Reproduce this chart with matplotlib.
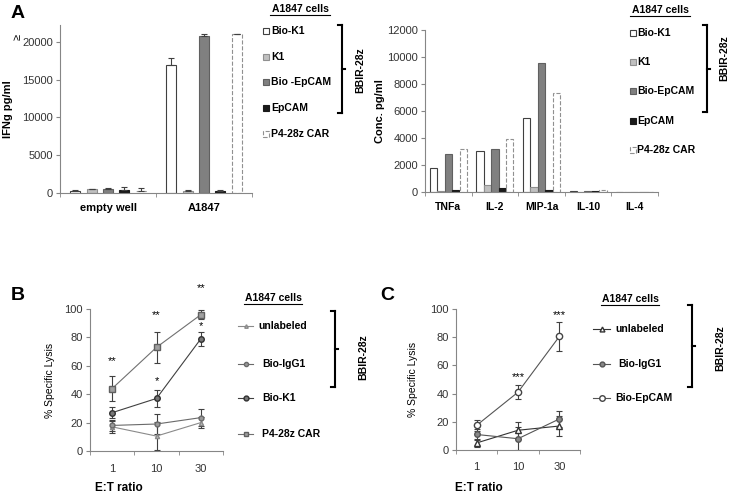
import numpy as np
import matplotlib
matplotlib.use("Agg")
import matplotlib.pyplot as plt
from matplotlib.patches import Rectangle
from matplotlib.lines import Line2D

plt.rcParams['font.family'] = ['Liberation Sans', 'DejaVu Sans']

# ---- data ----
ifn_groups = ['empty well', 'A1847']
ifn_series = ['Bio-K1', 'K1', 'Bio -EpCAM', 'EpCAM', 'P4-28z CAR']
ifn_vals = [[200, 17000], [500, 300], [500, 20800], [400, 200], [300, 21000]]
ifn_err = [[200, 900], [60, 100], [200, 200], [350, 250], [350, 0]]

cyt_cats = ['TNFa', 'IL-2', 'MIP-1a', 'IL-10', 'IL-4']
cyt_series = ['Bio-K1', 'K1', 'Bio-EpCAM', 'EpCAM', 'P4-28z CAR']
cyt_vals = [[1750, 3050, 5500, 50, 30],
            [80, 500, 400, 30, 20],
            [2800, 3200, 9550, 50, 30],
            [120, 300, 150, 80, 20],
            [3200, 3900, 7350, 180, 30]]

et_ratio = ['1', '10', '30']
b_series = ['unlabeled', 'Bio-IgG1', 'Bio-K1', 'P4-28z CAR']
b_vals = [[17, 10.5, 20], [18, 19, 23.5], [27, 37, 79], [44, 73, 96]]
b_err = [[4, 10, 4], [4, 7, 6], [4, 6, 5], [9, 11, 3]]
b_stars = [(0, 63, '**'), (1, 96, '**'), (2, 115, '**'), (1, 49, '*'), (2, 88, '*')]

c_series = ['unlabeled', 'Bio-IgG1', 'Bio-EpCAM']
c_vals = [[5, 14, 17], [11, 8, 22], [17.5, 41, 80.5]]
c_err = [[3, 6, 7], [4, 8, 6], [4, 5, 10]]
c_stars = [(1, 52, '***'), (2, 96, '***')]

# ---- styles ----
bar_face = ['white', '#c0c0c0', '#808080', '#1a1a1a', 'white']
bar_edge = ['#404040', '#909090', '#606060', '#1a1a1a', '#909090']
bar_ls = ['-', '-', '-', '-', '--']
axcol = '#868686'

W, H = 729, 497
fig = plt.figure(figsize=(W / 100, H / 100), dpi=100)


def px_ax(x0, y0, x1, y1):
    return fig.add_axes([x0 / W, 1 - y1 / H, (x1 - x0) / W, (y1 - y0) / H])


def style_ax(ax, ncat):
    for s in ['top', 'right']:
        ax.spines[s].set_visible(False)
    for s in ['left', 'bottom']:
        ax.spines[s].set_color(axcol)
    ax.set_xlim(-0.5, ncat - 0.5)
    ax.set_xticks(np.arange(ncat))
    ax.set_xticks(np.arange(ncat + 1) - 0.5, minor=True)
    ax.tick_params(axis='x', which='major', length=0, pad=7)
    ax.tick_params(axis='x', which='minor', length=3, color=axcol)
    ax.tick_params(axis='y', length=3, pad=2, color=axcol, labelsize=8, labelcolor='#333333')


def ftext(x, y, s, **kw):
    fig.text(x / W, 1 - y / H, s, **kw)


def bracket(x, y0, y1):
    lw = 1.5
    fig.add_artist(Line2D([x / W, x / W], [1 - y0 / H, 1 - y1 / H], color='black', lw=lw))
    for y in (y0, y1):
        fig.add_artist(Line2D([(x - 4) / W, x / W], [1 - y / H, 1 - y / H], color='black', lw=lw))
    ym = (y0 + y1) / 2
    fig.add_artist(Line2D([x / W, (x + 3) / W], [1 - ym / H, 1 - ym / H], color='black', lw=lw))


def sq(x, y, i):
    s = 6
    fig.add_artist(Rectangle((x / W, 1 - (y + s / 2) / H), s / W, s / H,
                             facecolor=bar_face[i], edgecolor=bar_edge[i], lw=0.8,
                             linestyle=bar_ls[i], transform=fig.transFigure))


# ---- A left ----
ax1 = px_ax(60, 25, 252, 193)
style_ax(ax1, 2)
x = np.arange(2)
for i in range(5):
    pos = x + (i - 2) * 0.17
    ax1.bar(pos, ifn_vals[i], width=0.105, color=bar_face[i], edgecolor=bar_edge[i],
            linestyle=bar_ls[i], linewidth=0.8)
    e = np.array(ifn_err[i])
    ax1.errorbar(pos, ifn_vals[i], yerr=[np.zeros(2), e], fmt='none', ecolor='#404040',
                 elinewidth=0.8, capsize=2.5, capthick=0.8)
ax1.set_ylim(0, 22250)
ax1.set_yticks(np.arange(0, 20001, 5000))
ax1.set_xticklabels(ifn_groups, fontsize=8, fontweight='bold')
ax1.set_ylabel('IFNg pg/ml', fontsize=8, fontweight='bold')
ax1.yaxis.set_label_coords(-0.245, 0.5)
ftext(18, 37, '≥', fontsize=8, rotation=90, ha='center', va='center')
ftext(18, 14, 'A', fontsize=14, fontweight='bold', ha='center', va='center')

ftext(300, 9, 'A1847 cells', fontsize=7.5, fontweight='bold', ha='center', va='center')
fig.add_artist(Line2D([270 / W, 330 / W], [1 - 15 / H, 1 - 15 / H], color='black', lw=0.8))
for i, (lab, y) in enumerate(zip(ifn_series, [31, 57, 82, 108, 134])):
    sq(263, y, i)
    ftext(271, y, lab, fontsize=7.5, fontweight='bold', va='center')
bracket(342, 25, 113)
ftext(360, 70, 'BBIR-28z', fontsize=7.5, fontweight='bold', rotation=90, ha='center', va='center')

# ---- A right ----
ax2 = px_ax(425, 30, 658, 192)
style_ax(ax2, 5)
x = np.arange(5)
for i in range(5):
    ax2.bar(x + (i - 2) * 0.16, cyt_vals[i], width=0.155, color=bar_face[i],
            edgecolor=bar_edge[i], linestyle=bar_ls[i], linewidth=0.8)
ax2.set_ylim(0, 12000)
ax2.set_yticks(np.arange(0, 12001, 2000))
ax2.set_xticklabels(cyt_cats, fontsize=7.5, fontweight='bold')
ax2.set_ylabel('Conc. pg/ml', fontsize=8, fontweight='bold')
ax2.yaxis.set_label_coords(-0.17, 0.5)

ftext(660, 10, 'A1847 cells', fontsize=7.5, fontweight='bold', ha='center', va='center')
fig.add_artist(Line2D([630 / W, 690 / W], [1 - 16 / H, 1 - 16 / H], color='black', lw=0.8))
for i, (lab, y) in enumerate(zip(cyt_series, [33, 62, 91, 121, 150])):
    sq(630, y, i)
    ftext(637, y, lab, fontsize=7.5, fontweight='bold', va='center')
bracket(707, 25, 112)
ftext(724, 58, 'BBIR-28z', fontsize=7.5, fontweight='bold', rotation=90, ha='center', va='center')

# ---- B ----
b_style = [dict(color='#8a8a8a', marker='^', ms=3, mfc='#bbbbbb', mec='#8a8a8a'),
           dict(color='#6a6a6a', marker='o', ms=3.5, mfc='#999999', mec='#6a6a6a'),
           dict(color='#404040', marker='o', ms=4, mfc='#777777', mec='#303030'),
           dict(color='#707070', marker='s', ms=4, mfc='#a0a0a0', mec='#606060')]
ax3 = px_ax(90, 309, 223, 451)
style_ax(ax3, 3)
xb = np.arange(3)
for v, e, st in zip(b_vals, b_err, b_style):
    ax3.errorbar(xb, v, yerr=e, lw=0.8, elinewidth=0.8, capsize=2.5, capthick=0.8,
                 ecolor='#404040', **st)
for xi, yi, s in b_stars:
    ax3.text(xi, yi, s, ha='center', va='center', fontsize=8, clip_on=False)
ax3.set_ylim(0, 100)
ax3.set_yticks(np.arange(0, 101, 20))
ax3.set_xticklabels(et_ratio, fontsize=8, color='#333333')
ax3.tick_params(axis='x', which='major', pad=9)
ax3.set_ylabel('% Specific Lysis', fontsize=7.5)
ax3.yaxis.set_label_coords(-0.26, 0.5)
ftext(95, 488, 'E:T ratio', fontsize=8.5, fontweight='bold', va='center')
ftext(18, 296, 'B', fontsize=14, fontweight='bold', ha='center', va='center')

ftext(273, 298, 'A1847 cells', fontsize=7.5, fontweight='bold', ha='center', va='center')
fig.add_artist(Line2D([244 / W, 302 / W], [1 - 304 / H, 1 - 304 / H], color='black', lw=0.8))
for lab, y, st, tx in zip(b_series, [326, 364, 398, 434], b_style, [258, 262, 262, 262]):
    fig.add_artist(Line2D([238 / W, 253 / W], [1 - y / H, 1 - y / H], color=st['color'], lw=0.8))
    fig.add_artist(Line2D([245.5 / W], [1 - y / H], marker=st['marker'], ms=st['ms'] - 0.5,
                          mfc=st['mfc'], mec=st['mec'], lw=0))
    ftext(tx, y, lab, fontsize=7.5, fontweight='bold', va='center')
bracket(335, 311, 387)
ftext(363, 357, 'BBIR-28z', fontsize=7.5, fontweight='bold', rotation=90, ha='center', va='center')

# ---- C ----
c_style = [dict(color='#333333', marker='^', ms=4, mfc='white', mec='#333333'),
           dict(color='#555555', marker='o', ms=4, mfc='#888888', mec='#555555'),
           dict(color='#555555', marker='o', ms=4.5, mfc='white', mec='#444444')]
ax4 = px_ax(456, 309, 580, 450)
style_ax(ax4, 3)
for v, e, st in zip(c_vals, c_err, c_style):
    ax4.errorbar(xb, v, yerr=e, lw=0.8, elinewidth=0.8, capsize=2.5, capthick=0.8,
                 ecolor='#404040', **st)
for xi, yi, s in c_stars:
    ax4.text(xi, yi, s, ha='center', va='center', fontsize=8, clip_on=False)
ax4.set_ylim(0, 100)
ax4.set_yticks(np.arange(0, 101, 20))
ax4.set_xticklabels(et_ratio, fontsize=8, color='#333333')
ax4.tick_params(axis='x', which='major', pad=9)
ax4.set_ylabel('% Specific Lysis', fontsize=7.5)
ax4.yaxis.set_label_coords(-0.31, 0.5)
ftext(455, 488, 'E:T ratio', fontsize=8.5, fontweight='bold', va='center')
ftext(387, 296, 'C', fontsize=14, fontweight='bold', ha='center', va='center')

ftext(630, 299, 'A1847 cells', fontsize=7.5, fontweight='bold', ha='center', va='center')
fig.add_artist(Line2D([601 / W, 659 / W], [1 - 305 / H, 1 - 305 / H], color='black', lw=0.8))
for lab, y, st, tx in zip(c_series, [329, 364, 398], c_style, [615, 618, 615]):
    fig.add_artist(Line2D([593 / W, 610 / W], [1 - y / H, 1 - y / H], color=st['color'], lw=0.8))
    fig.add_artist(Line2D([601.5 / W], [1 - y / H], marker=st['marker'], ms=st['ms'] - 0.5,
                          mfc=st['mfc'], mec=st['mec'], lw=0))
    ftext(tx, y, lab, fontsize=7.5, fontweight='bold', va='center')
bracket(692, 305, 387)
ftext(720, 348, 'BBIR-28z', fontsize=7.5, fontweight='bold', rotation=90, ha='center', va='center')

fig.savefig('out.png', dpi=100)
